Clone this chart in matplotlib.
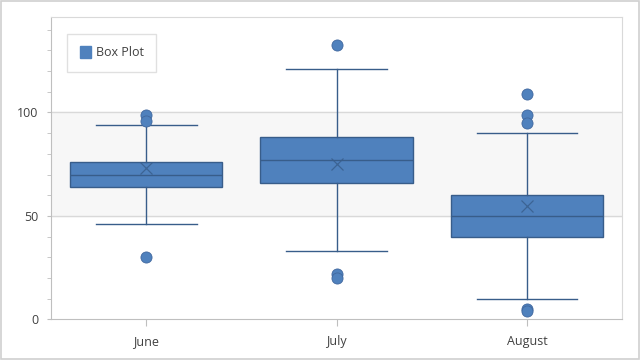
import matplotlib.pyplot as plt
from matplotlib.patches import Rectangle, Patch
from matplotlib.ticker import MultipleLocator, FixedLocator

# values
months = ["June", "July", "August"]
q1 = [64, 66, 40]
median = [70, 77, 50]
q3 = [76, 88, 60]
mean = [73, 75, 55]
whis_lo = [46, 33, 10]
whis_hi = [94, 121, 90]
outliers = [[99, 96, 30], [132.5, 22, 20], [109, 99, 95, 5, 4]]

fill = "#4F81BD"
edge = "#385D8A"
grid_c = "#D9D9D9"

plt.rcParams['font.family'] = ['Open Sans', 'DejaVu Sans']

fig = plt.figure(figsize=(6.4, 3.6), dpi=100)
ax = fig.add_axes([0.0797, 0.113, 0.8925, 0.839])

stats = []
for i, m in enumerate(months):
    stats.append(dict(label=m, q1=q1[i], med=median[i], q3=q3[i], mean=mean[i],
                      whislo=whis_lo[i], whishi=whis_hi[i], fliers=outliers[i]))

lw = 1.0
ax.bxp(stats, positions=range(len(months)), widths=0.8, patch_artist=True,
       showmeans=True, capwidths=0.53,
       boxprops=dict(facecolor=fill, edgecolor=edge, linewidth=lw),
       medianprops=dict(color=edge, linewidth=lw),
       whiskerprops=dict(color=edge, linewidth=lw),
       capprops=dict(color=edge, linewidth=lw),
       meanprops=dict(marker='x', markersize=8, markeredgecolor=edge,
                      markeredgewidth=0.9, alpha=0.8),
       flierprops=dict(marker='o', markersize=8, markerfacecolor=fill,
                       markeredgecolor="#41689E", markeredgewidth=0.6),
       zorder=3)

ax.set_xlim(-0.5, 2.5)
ax.set_ylim(0, 146)

# shaded band + grid lines
ax.axhspan(50, 100, color="#F7F7F7", zorder=0)
for v in (50, 100):
    ax.axhline(v, color=grid_c, linewidth=1, zorder=1)

ax.yaxis.set_major_locator(FixedLocator([0, 50, 100]))
ax.yaxis.set_minor_locator(MultipleLocator(10))
ax.tick_params(axis='y', which='both', length=3, color="#BFBFBF", pad=6,
               labelsize=9, labelcolor="#404040")
ax.tick_params(axis='x', length=5, color="#BFBFBF", pad=6,
               labelsize=9, labelcolor="#404040")
ax.set_xticks(range(len(months)))
ax.set_xticklabels(months)

for s in ax.spines.values():
    s.set_color("#D9D9D9")
ax.spines['left'].set_color("#BFBFBF")
ax.spines['bottom'].set_color("#BFBFBF")

leg = ax.legend(handles=[Patch(facecolor=fill, edgecolor=fill, label="Box Plot")],
                loc='upper left', bbox_to_anchor=(0.028, 0.946), fontsize=9,
                frameon=True, fancybox=False, handlelength=0.9, handleheight=1.1,
                borderpad=1.0, handletextpad=0.4, borderaxespad=0)
leg.get_frame().set_edgecolor("#D9D9D9")
leg.get_frame().set_linewidth(1)
for t in leg.get_texts():
    t.set_color("#404040")

fig.patches.append(Rectangle((0.001, 0.002), 0.997, 0.995, transform=fig.transFigure,
                             fill=False, edgecolor="#D0D0D0", linewidth=1.2))

fig.savefig("out.png", dpi=100)
